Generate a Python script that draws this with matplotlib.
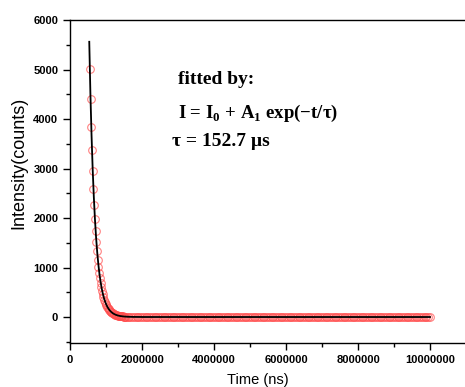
import numpy as np
import matplotlib.pyplot as plt
from matplotlib.ticker import MultipleLocator

plt.rcParams['mathtext.fontset'] = 'custom'
plt.rcParams['mathtext.bf'] = 'Liberation Serif:bold'
plt.rcParams['mathtext.rm'] = 'Liberation Serif'

# decay data: time (ns) and intensity (counts)
t_decay = np.arange(550e3, 1530e3 + 1, 20e3)
counts_decay = [5010, 4400, 3840, 3370, 2950, 2590, 2260, 1970, 1730, 1520,
                1330, 1160, 1010, 890, 780, 680, 600, 525, 455, 400,
                350, 305, 268, 235, 205, 180, 158, 138, 121, 106,
                93, 82, 72, 63, 55, 48, 42, 37, 32, 28,
                25, 22, 19, 17, 15, 13, 11, 10, 9, 8]

t_tail = np.arange(1550e3, 10000e3 + 1, 50e3)
counts_tail = [6, 4, 9, -3, 5, 2, 7, -6, 3, 0,
               8, -4, 2, 5, -2, 10, 1, -7, 4, 6,
               -3, 2, 9, -5, 0, 3, 7, -2, 5, -8,
               4, 1, 6, -4, 8, -1, 3, 0, -6, 5,
               2, 9, -3, 4, -2, 7, 1, -5, 6, 0,
               3, -7, 8, 2, -1, 5, -4, 9, 1, -3,
               6, 0, 4, -6, 7, 2, -2, 5, -8, 3,
               1, 6, -4, 8, 0, -3, 4, 7, -1, 2,
               -5, 6, 3, -2, 0, 5, -1, 7, 2, -4,
               3, 8, -6, 1, 4, -2, 6, 0, -3, 9,
               2, -5, 4, 7, -1, 3, -7, 5, 1, 6,
               -2, 4, 0, 8, -4, 2, 5, -6, 3, 1,
               7, -3, 0, 4, -1, 6, 2, -5, 9, 3,
               -2, 5, 1, -4, 7, 0, 3, -6, 4, 2,
               8, -1, 5, -3, 6, 1, -7, 4, 2, 0,
               3, -2, 7, 5, -4, 1, 6, -1, 2, 4,
               -3, 5, 0, 7, -2, 3, 6, -5, 1, 2]

# single exponential fit
I0 = 0.0
A1 = 5560.0
tau = 152.7e3  # ns
t_start = 535e3

t_fit = np.linspace(t_start, 10000e3, 3000)
I_fit = I0 + A1 * np.exp(-(t_fit - t_start) / tau)

t_all = np.concatenate([t_decay, t_tail])
counts_all = np.concatenate([counts_decay, counts_tail])

fig = plt.figure(figsize=(4.65, 3.87), dpi=100)
ax = fig.add_axes([70 / 465, 1 - 343 / 387, 396 / 465, 323 / 387])

ax.plot(t_all, counts_all, ls='none', marker='o', ms=5.5, mfc='none',
        mec='#ff4d4d', mew=0.8, alpha=0.7)
ax.plot(t_fit, I_fit, color='k', lw=1.3)

ax.set_xlim(0, 11e6)
ax.set_ylim(-525, 6000)

ax.xaxis.set_major_locator(MultipleLocator(2e6))
ax.xaxis.set_minor_locator(MultipleLocator(1e6))
ax.yaxis.set_major_locator(MultipleLocator(1000))
ax.yaxis.set_minor_locator(MultipleLocator(500))
ax.ticklabel_format(style='plain', useOffset=False)

ax.tick_params(which='both', direction='out', top=False, right=False, width=1)
ax.tick_params(which='major', length=5)
ax.tick_params(which='minor', length=3)
for lbl in ax.get_xticklabels() + ax.get_yticklabels():
    lbl.set_fontfamily('Liberation Sans')
    lbl.set_fontweight('bold')
    lbl.set_fontsize(8)
ax.spines['right'].set_visible(False)
for s in ax.spines.values():
    s.set_linewidth(1)

fig.text(258 / 465, 1 - 380 / 387, 'Time (ns)', family='Liberation Sans',
         fontsize=10.5, ha='center', va='center')
fig.text(19 / 465, 1 - 163 / 387, 'Intensity(counts)', family='Liberation Sans',
         fontsize=13, ha='center', va='center', rotation=90)

txt = dict(family='Liberation Serif', fontweight='bold',
           transform=fig.transFigure, va='center', ha='left')
fig.text(178 / 465, 1 - 80 / 387, 'fitted by:', fontsize=14, **txt)
fig.text(178 / 465, 1 - 113 / 387,
         r'I = I$_\mathbf{0}$ + A$_\mathbf{1}$ exp(−t/τ)', fontsize=13.5, **txt)
fig.text(172 / 465, 1 - 141 / 387, 'τ = 152.7 µs', fontsize=14, **txt)

fig.savefig('out.png', dpi=100)
